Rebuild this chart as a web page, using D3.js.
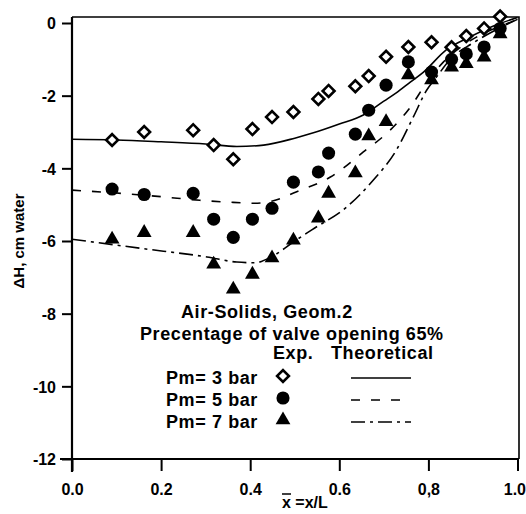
<!DOCTYPE html>
<html>
<head>
<meta charset="utf-8">
<script src="https://cdn.jsdelivr.net/npm/d3@7"></script>
<style>
  body { margin: 0; background: #fff; }
  svg text { font-family: "Liberation Sans", Arial, sans-serif; font-weight: bold; fill: #000; }
</style>
</head>
<body>
<svg id="chart" width="526" height="514"></svg>
<script>
// experimental points (x/L) shared by the three series
const xExp = [0.09, 0.162, 0.272, 0.318, 0.362, 0.405, 0.449, 0.497, 0.553, 0.576,
              0.636, 0.666, 0.705, 0.755, 0.807, 0.852, 0.885, 0.925, 0.961];
const dh3bar = [-3.22, -3.0, -2.95, -3.36, -3.75, -2.92, -2.59, -2.45, -2.09, -1.87,
                -1.74, -1.46, -0.93, -0.66, -0.53, -0.67, -0.36, -0.15, 0.18];
const dh5bar = [-4.57, -4.72, -4.69, -5.4, -5.9, -5.4, -5.1, -4.38, -4.1, -3.58,
                -3.06, -2.4, -1.71, -1.07, -1.35, -1.0, -0.85, -0.66, -0.15];
const dh7bar = [-5.95, -5.77, -5.77, -6.64, -7.33, -6.92, -6.47, -5.98, -5.37, -4.69,
                -4.13, -3.11, -2.72, -1.43, -1.57, -1.22, -1.12, -0.94, -0.3];

// theoretical curves
const xTh3 = [0, 0.1, 0.2, 0.3, 0.37, 0.43, 0.5, 0.54, 0.6, 0.654, 0.7, 0.727, 0.76, 0.789, 0.84, 0.894, 0.953, 1.0];
const th3  = [-3.2, -3.22, -3.27, -3.33, -3.4, -3.36, -3.17, -3.03, -2.78, -2.53, -2.15, -1.93, -1.62, -1.35, -0.74, -0.38, -0.05, 0.15];
const xTh5 = [0, 0.1, 0.2, 0.287, 0.35, 0.41, 0.45, 0.503, 0.58, 0.654, 0.714, 0.76, 0.795, 0.834, 0.88, 0.93, 0.97, 1.0];
const th5  = [-4.6, -4.68, -4.78, -4.88, -4.93, -4.96, -4.9, -4.65, -4.24, -3.55, -2.95, -2.31, -1.66, -1.07, -0.6, -0.25, -0.05, 0.1];
const xTh7 = [0, 0.153, 0.303, 0.37, 0.41, 0.45, 0.5, 0.54, 0.616, 0.676, 0.728, 0.766, 0.796, 0.818, 0.849, 0.9, 0.95, 1.0];
const th7  = [-5.95, -6.2, -6.44, -6.58, -6.6, -6.42, -6.0, -5.68, -5.07, -4.33, -3.5, -2.59, -1.85, -1.49, -1.0, -0.55, -0.2, 0.1];

const xTicks = [0, 0.2, 0.4, 0.6, 0.8, 1.0];
const xTickLabels = ["0.0", "0.2", "0.4", "0.6", "0,8", "1.0"];
const yTicks = [0, -2, -4, -6, -8, -10, -12];
const legendLabels = ["Pm= 3 bar", "Pm= 5 bar", "Pm= 7 bar"];

const svg = d3.select("#chart");

const x = d3.scaleLinear().domain([0, 1]).range([72, 517.5]);
const y = d3.scaleLinear().domain([0, -12]).range([23, 459]);

// frame: top and right thin lines
svg.append("path")
  .attr("d", `M72,17 H519 V459`)
  .attr("fill", "none").attr("stroke", "#000").attr("stroke-width", 1.6);

// main axis lines, extending past the corner
svg.append("line").attr("x1", 72).attr("x2", 72).attr("y1", 17).attr("y2", 472)
  .attr("stroke", "#000").attr("stroke-width", 2.2);
svg.append("line").attr("x1", 60).attr("x2", 519).attr("y1", 459).attr("y2", 459)
  .attr("stroke", "#000").attr("stroke-width", 2.2);

// y axis
const yAxis = svg.append("g")
  .attr("transform", "translate(72,0)")
  .call(d3.axisLeft(y).tickValues(yTicks).tickSize(10).tickPadding(6).tickFormat(d => String(d)));
yAxis.select(".domain").remove();
yAxis.selectAll("line").attr("stroke-width", 2);
yAxis.selectAll("text").style("font-size", "16px").attr("dy", "0.36em");

// x axis
const xAxis = svg.append("g")
  .attr("transform", "translate(0,459)")
  .call(d3.axisBottom(x).tickValues(xTicks).tickSize(12).tickPadding(13)
    .tickFormat((d, i) => xTickLabels[i]));
xAxis.select(".domain").remove();
xAxis.selectAll("line").attr("stroke-width", 2);
xAxis.selectAll("text").style("font-size", "16px");
// last label sits at the window edge: keep it inside
xAxis.selectAll("text").filter(d => d === 1).attr("text-anchor", "end").attr("dx", 8);

// axis titles
svg.append("text")
  .attr("transform", "translate(24,241) rotate(-90)")
  .attr("text-anchor", "middle")
  .style("font-size", "15px")
  .text("ΔH, cm water");

const xt = svg.append("text").attr("x", 282).attr("y", 508).style("font-size", "16px");
xt.append("tspan").text("x");
xt.append("tspan").text(" =x/L");
svg.append("line").attr("x1", 282).attr("x2", 291).attr("y1", 494).attr("y2", 494)
  .attr("stroke", "#000").attr("stroke-width", 1.5);

// theoretical curves
const curveOf = (xs, ys) => d3.line()
  .x((d, i) => x(xs[i])).y(d => y(d))
  .curve(d3.curveMonotoneX)(ys);

const dashes = ["none", "9,11", "14,5,3,5"];
[[xTh3, th3], [xTh5, th5], [xTh7, th7]].forEach(([xs, ys], k) => {
  svg.append("path")
    .attr("d", curveOf(xs, ys))
    .attr("fill", "none").attr("stroke", "#000").attr("stroke-width", 1.6)
    .attr("stroke-dasharray", dashes[k]);
});

// experimental markers
const diamond = d3.symbol().type(d3.symbolSquare).size(70);
const circle = d3.symbol().type(d3.symbolCircle).size(135);
const triangle = d3.symbol().type(d3.symbolTriangle).size(95);

function drawMarker(g, k, cx, cy) {
  if (k === 0) {
    g.append("path").attr("d", diamond())
      .attr("transform", `translate(${cx},${cy}) rotate(45)`)
      .attr("fill", "#fff").attr("stroke", "#000").attr("stroke-width", 2.6);
  } else if (k === 1) {
    g.append("path").attr("d", circle())
      .attr("transform", `translate(${cx},${cy})`).attr("fill", "#000");
  } else {
    g.append("path").attr("d", triangle())
      .attr("transform", `translate(${cx},${cy})`).attr("fill", "#000");
  }
}

const pts = svg.append("g");
[dh7bar, dh5bar, dh3bar].forEach((ys, j) => {
  const k = 2 - j;
  ys.forEach((v, i) => drawMarker(pts, k, x(xExp[i]), y(v)));
});

// legend / annotation text
const ann = svg.append("g").style("font-size", "18px").style("letter-spacing", "0.6px");
ann.append("text").attr("x", 181).attr("y", 318).text("Air-Solids, Geom.2");
ann.append("text").attr("x", 140).attr("y", 340).text("Precentage of valve opening 65%");
ann.append("text").attr("x", 273).attr("y", 359).text("Exp.");
ann.append("text").attr("x", 331).attr("y", 359).text("Theoretical");

const legY = [384, 406, 428];
legendLabels.forEach((lab, k) => {
  ann.append("text").attr("x", 166).attr("y", legY[k]).text(lab);
  drawMarker(svg, k, 283, legY[k] - 8);
  svg.append("line")
    .attr("x1", 351).attr("x2", 411)
    .attr("y1", legY[k] - 6).attr("y2", legY[k] - 6)
    .attr("stroke", "#000").attr("stroke-width", 1.6)
    .attr("stroke-dasharray", dashes[k]);
});
</script>
</body>
</html>
